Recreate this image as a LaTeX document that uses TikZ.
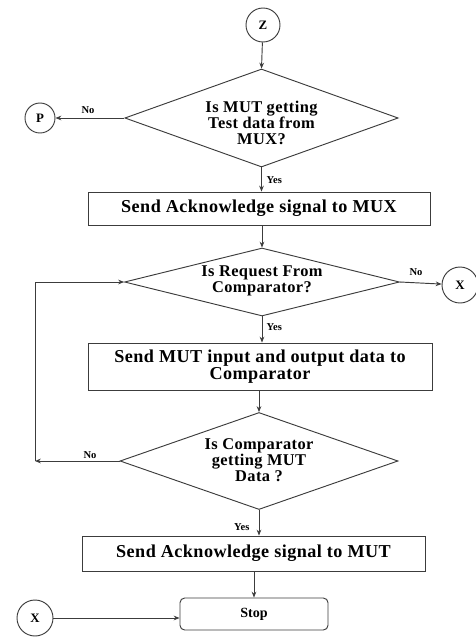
\documentclass[tikz,border=0pt]{standalone}
\usepackage{fontspec}
\setmainfont{Liberation Serif}
\newfontfamily\flowfont[LetterSpace=2.5]{Liberation Serif}
\usetikzlibrary{shapes.geometric,arrows.meta}

\definecolor{FlowGrey}{RGB}{60,60,60}

\begin{document}
\begin{tikzpicture}[x=0.03cm, y=-0.03cm,
    line width=0.8pt, draw=FlowGrey,
    flowarrow/.style={-{Stealth[length=5pt,width=4pt]}, line width=0.8pt, FlowGrey},
    decision/.style={draw, diamond, inner sep=0pt},
    question/.style={align=center, inner sep=0pt, font=\flowfont\fontsize{14}{13.5}\selectfont\bfseries},
    process/.style={draw, rectangle, inner sep=0pt, align=center, font=\flowfont\fontsize{15.5}{14.5}\selectfont\bfseries},
    connector/.style={draw, circle, inner sep=0pt, font=\fontsize{11}{12}\selectfont\bfseries},
    answer/.style={font=\fontsize{9}{10}\selectfont\bfseries, inner sep=1pt}]
                \useasboundingbox (0,0) rectangle (476,639);
                % Entry connector and first question
                \node[connector, minimum size=1.02cm] (z) at (263,25) {Z};
                \node[decision, minimum width=8.2cm, minimum height=2.94cm] (d1) at (261.5,118) {};
                \node[question] (q1) at (261.5,123) {Is MUT getting\\Test data from\\MUX?};
                \node[connector, minimum size=0.9cm] (p) at (40,118) {P};
                \draw[flowarrow] (z) -- (d1.north);
                \draw[flowarrow] (d1.west) -- (p);
                \node[answer] (no1) at (88,110) {No};
                % Acknowledge to MUX
                \node[process, minimum width=10.26cm, minimum height=0.99cm] (ackmux) at (259,208.5) {Send Acknowledge signal to MUX};
                \draw[flowarrow] (d1.south) -- (d1.south |- ackmux.north);
                \node[answer, anchor=west] (yes1) at (265,180) {Yes};
                % Request from comparator
                \node[decision, minimum width=8.25cm, minimum height=2.04cm] (d2) at (262,282) {};
                \node[question] (q2) at (262,281) {Is Request From\\Comparator?};
                \node[connector, minimum size=1.08cm] (xr) at (460,285) {X};
                \draw[flowarrow] (d2.north |- ackmux.south) -- (d2.north);
                \draw[flowarrow] (d2.east) -- (xr);
                \node[answer] (no2) at (416,272) {No};
                % Send data to comparator
                \node[process, minimum width=10.32cm, minimum height=1.41cm] (senddata) at (260,366.5) {Send MUT input and output data to\\Comparator};
                \draw[flowarrow] (d2.south) -- (d2.south |- senddata.north);
                \node[answer, anchor=west] (yes2) at (265,327) {Yes};
                % Comparator getting data
                \node[decision, minimum width=8.34cm, minimum height=2.91cm] (d3) at (259,461) {};
                \node[question] (q3) at (259,460) {Is Comparator\\getting MUT\\Data ?};
                \draw[flowarrow] (d3.north |- senddata.south) -- (d3.north);
                % Loop back on No
                \coordinate (loopb) at (35,461);
                \coordinate (loopt) at (35,282);
                \draw[flowarrow] (d3.west) -- (loopb);
                \draw[flowarrow] (loopb) -- (loopt) -- (d2.west);
                \node[answer] (no3) at (90,455) {No};
                % Acknowledge to MUT and stop
                \node[process, minimum width=10.29cm, minimum height=1.05cm] (ackmut) at (253.5,553.5) {Send Acknowledge signal to MUT};
                \draw[flowarrow] (d3.south) -- (d3.south |- ackmut.north);
                \node[answer, anchor=east] (yes3) at (251,527) {Yes};
                \node[draw, rectangle, rounded corners=4pt, minimum width=4.44cm, minimum height=0.96cm, font=\fontsize{12}{14}\selectfont\bfseries] (stop) at (254,614) {Stop};
                \node[connector, minimum size=1.08cm] (xs) at (35,618) {X};
                \draw[flowarrow] (ackmut.south -| stop.north) -- (stop.north);
                \draw[flowarrow] (xs) -- (xs -| stop.west);
\end{tikzpicture}
\end{document}
